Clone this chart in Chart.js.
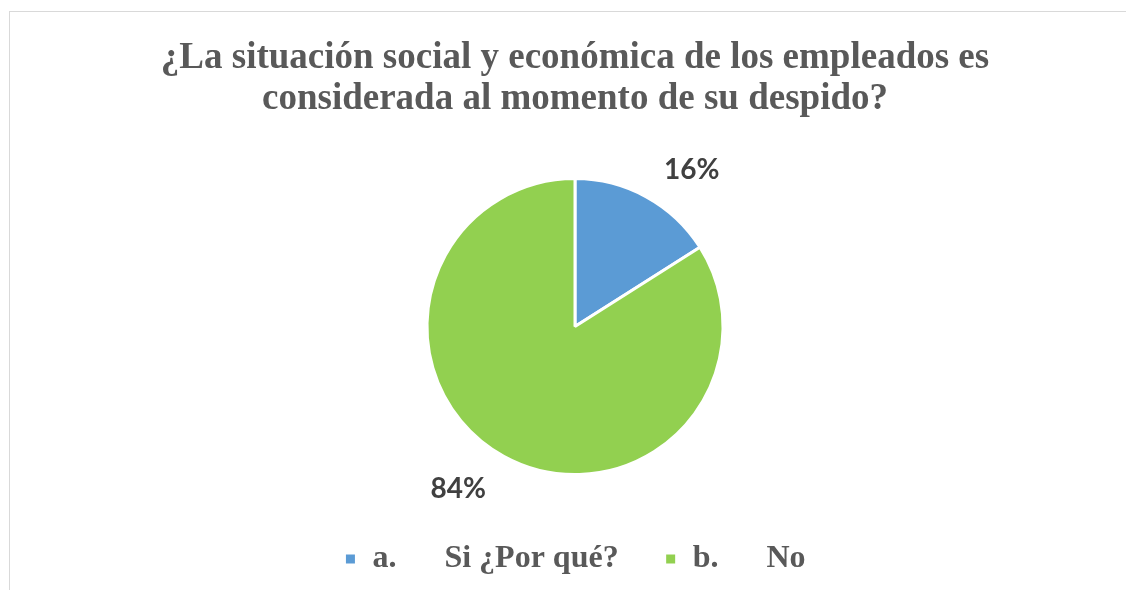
<!DOCTYPE html>
<html lang="es">
<head>
<meta charset="utf-8">
<title>Situación social y económica</title>
<script src="https://cdn.jsdelivr.net/npm/chart.js@4.4.1/dist/chart.umd.min.js"></script>
<style>
  body { margin: 0; background: #ffffff; }
  .wrap { position: relative; width: 1126px; height: 590px; overflow: hidden; }
  .frame {
    position: absolute; left: 9px; top: 11px; width: 1200px; height: 700px;
    border-top: 1px solid #d9d9d9; border-left: 1px solid #d9d9d9;
  }
  #myChart { position: absolute; left: 0; top: 0; }
</style>
</head>
<body>
<div class="wrap">
  <div class="frame"></div>
  <canvas id="myChart" width="1126" height="590"></canvas>
</div>
<script>
const TITLE_LINES = [
  "¿La situación social y económica de los empleados es",
  "considerada al momento de su despido?",
];
const labels = ["a.      Si ¿Por qué?", "b.      No"];
const percents = [16, 84];
const colors = ["#5b9bd5", "#92d050"];

// percentage labels sitting just outside each slice
const sliceLabels = {
  id: "sliceLabels",
  afterDatasetsDraw(chart) {
    const ctx = chart.ctx;
    const meta = chart.getDatasetMeta(0);
    ctx.save();
    ctx.font = "bold 28px Lato";
    ctx.fillStyle = "#404040";
    ctx.textAlign = "center";
    ctx.textBaseline = "middle";
    meta.data.forEach((arc, i) => {
      const { x, y, startAngle, endAngle, outerRadius } = arc.getProps(
        ["x", "y", "startAngle", "endAngle", "outerRadius"],
        true
      );
      const mid = (startAngle + endAngle) / 2;
      const text = percents[i] + "%";
      const w = ctx.measureText(text).width;
      const dx = Math.cos(mid);
      const dy = Math.sin(mid);
      const lx = x + dx * outerRadius * 1.25 + Math.sign(dx) * w / 2;
      const ly = y + dy * outerRadius * 1.23 + 3;
      ctx.fillText(text, lx, ly);
    });
    ctx.restore();
  },
};

new Chart(document.getElementById("myChart"), {
  type: "pie",
  data: {
    labels: labels,
    datasets: [
      {
        data: percents,
        backgroundColor: colors,
        borderColor: "#ffffff",
        borderWidth: 3,
        radius: 148,
      },
    ],
  },
  plugins: [sliceLabels],
  options: {
    responsive: false,
    animation: false,
    events: [],
    layout: {
      padding: { left: 24, right: 0, top: 38, bottom: 5 },
    },
    plugins: {
      title: {
        display: true,
        text: TITLE_LINES,
        color: "#595959",
        font: { family: "Liberation Serif", size: 37, weight: "bold", lineHeight: 1.11 },
        padding: { top: 0, bottom: 36 },
      },
      legend: {
        display: true,
        position: "bottom",
        labels: {
          boxWidth: 12,
          boxHeight: 12,
          padding: 46,
          color: "#595959",
          font: { family: "Liberation Serif", size: 32, weight: "bold" },
        },
      },
      tooltip: { enabled: false },
    },
  },
});
</script>
</body>
</html>
